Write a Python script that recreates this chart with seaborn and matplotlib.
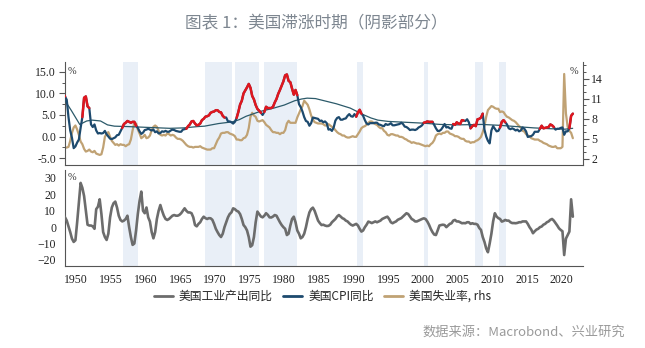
import numpy as np
import pandas as pd
import matplotlib
matplotlib.use("Agg")
import matplotlib.pyplot as plt
import seaborn as sns
from matplotlib.ticker import MultipleLocator, FormatStrFormatter, FixedLocator
from matplotlib.lines import Line2D

sns.set_style("white")
CJK = ["Noto Sans CJK SC", "DejaVu Sans"]
plt.rcParams["font.family"] = CJK
TICK_FONT = "Liberation Serif"

# ---- quarterly series, starting 1948 Q1 ----
start_year = 1948

# US CPI, % y/y
cpi_yoy = [
    9.8, 9.3, 8.5, 4.5,      # 1948
    1.4, -0.3, -2.7, -2.3,   # 1949
    -1.4, -0.7, 2.0, 4.5,    # 1950
    9.0, 9.3, 7.0, 6.6,      # 1951
    2.8, 2.2, 2.8, 1.4,      # 1952
    0.7, 0.8, 0.7, 0.8,      # 1953
    1.3, 0.5, 0.0, -0.5,     # 1954
    -0.6, -0.4, -0.2, 0.3,   # 1955
    0.4, 1.2, 2.0, 2.9,      # 1956
    3.2, 3.6, 3.4, 3.2,      # 1957
    3.4, 3.4, 2.5, 2.0,      # 1958
    1.2, 0.6, 0.9, 1.5,      # 1959
    1.6, 1.8, 1.6, 1.4,      # 1960
    1.6, 1.0, 1.2, 0.7,      # 1961
    0.8, 1.2, 1.1, 1.3,      # 1962
    1.1, 1.1, 1.4, 1.6,      # 1963
    1.5, 1.3, 1.2, 1.1,      # 1964
    1.1, 1.6, 1.7, 1.8,      # 1965
    2.4, 2.8, 3.5, 3.6,      # 1966
    3.0, 2.6, 2.7, 3.0,      # 1967
    3.8, 4.1, 4.6, 4.7,      # 1968
    4.9, 5.5, 5.7, 5.8,      # 1969
    6.1, 6.1, 5.7, 5.6,      # 1970
    4.8, 4.4, 4.4, 3.5,      # 1971
    3.5, 3.3, 3.0, 3.4,      # 1972
    4.3, 5.7, 7.4, 8.3,      # 1973
    10.0, 10.7, 11.4, 12.2,  # 1974
    11.3, 9.4, 8.6, 7.3,     # 1975
    6.4, 6.0, 5.5, 5.0,      # 1976
    5.7, 6.9, 6.6, 6.6,      # 1977
    6.6, 6.9, 7.9, 8.7,      # 1978
    9.9, 10.8, 11.8, 12.8,   # 1979
    14.2, 14.4, 12.9, 12.6,  # 1980
    11.1, 9.7, 10.8, 9.6,    # 1981
    7.5, 6.8, 5.8, 4.5,      # 1982
    3.6, 3.4, 2.5, 3.1,      # 1983
    4.4, 4.3, 4.2, 4.1,      # 1984
    3.6, 3.7, 3.3, 3.5,      # 1985
    3.1, 1.6, 1.7, 1.3,      # 1986
    2.1, 3.7, 4.3, 4.5,      # 1987
    3.9, 3.9, 4.1, 4.2,      # 1988
    4.8, 5.2, 4.7, 4.6,      # 1989
    5.2, 4.6, 5.6, 6.2,      # 1990
    5.3, 4.8, 3.8, 3.0,      # 1991
    2.8, 3.1, 3.1, 3.1,      # 1992
    3.2, 3.2, 2.8, 2.7,      # 1993
    2.5, 2.4, 2.9, 2.7,      # 1994
    2.8, 3.1, 2.6, 2.6,      # 1995
    2.7, 2.8, 2.9, 3.2,      # 1996
    2.9, 2.3, 2.2, 1.9,      # 1997
    1.5, 1.6, 1.6, 1.5,      # 1998
    1.7, 2.1, 2.3, 2.6,      # 1999
    3.2, 3.3, 3.5, 3.4,      # 2000
    3.4, 3.4, 2.7, 1.9,      # 2001
    1.3, 1.3, 1.6, 2.2,      # 2002
    2.9, 2.1, 2.2, 1.9,      # 2003
    1.8, 2.9, 2.7, 3.3,      # 2004
    3.0, 2.9, 3.8, 3.7,      # 2005
    3.6, 4.0, 3.3, 1.9,      # 2006
    2.4, 2.7, 2.4, 4.0,      # 2007
    4.1, 4.4, 5.3, 1.6,      # 2008
    0.0, -1.0, -1.6, 1.4,    # 2009
    2.4, 1.8, 1.2, 1.3,      # 2010
    2.1, 3.4, 3.8, 3.3,      # 2011
    2.8, 1.9, 1.7, 1.9,      # 2012
    1.7, 1.4, 1.6, 1.2,      # 2013
    1.4, 2.1, 1.8, 1.2,      # 2014
    -0.1, 0.0, 0.1, 0.4,     # 2015
    1.1, 1.1, 1.1, 1.8,      # 2016
    2.5, 1.9, 2.0, 2.1,      # 2017
    2.2, 2.8, 2.6, 2.2,      # 2018
    1.6, 1.8, 1.8, 2.0,      # 2019
    2.1, 0.4, 1.2, 1.2,      # 2020
    1.9, 4.8, 5.3,           # 2021
]

# US unemployment rate, % (right-hand scale)
unemployment = [
    3.7, 3.7, 3.7, 3.8,      # 1948
    4.7, 5.9, 6.7, 7.0,      # 1949
    6.4, 5.6, 4.6, 4.2,      # 1950
    3.5, 3.1, 3.2, 3.4,      # 1951
    3.1, 3.0, 3.2, 2.8,      # 1952
    2.7, 2.6, 2.7, 3.7,      # 1953
    5.3, 5.8, 6.0, 5.3,      # 1954
    4.7, 4.4, 4.1, 4.2,      # 1955
    4.0, 4.2, 4.1, 4.1,      # 1956
    3.9, 4.1, 4.2, 4.9,      # 1957
    6.3, 7.4, 7.3, 6.4,      # 1958
    5.8, 5.1, 5.3, 5.6,      # 1959
    5.1, 5.2, 5.5, 6.3,      # 1960
    6.8, 7.0, 6.8, 6.2,      # 1961
    5.6, 5.5, 5.6, 5.5,      # 1962
    5.8, 5.7, 5.5, 5.6,      # 1963
    5.5, 5.2, 5.0, 5.0,      # 1964
    4.9, 4.7, 4.4, 4.1,      # 1965
    3.9, 3.8, 3.8, 3.7,      # 1966
    3.8, 3.8, 3.8, 3.9,      # 1967
    3.7, 3.6, 3.5, 3.4,      # 1968
    3.4, 3.4, 3.6, 3.6,      # 1969
    4.2, 4.8, 5.2, 5.8,      # 1970
    5.9, 5.9, 6.0, 6.0,      # 1971
    5.8, 5.7, 5.6, 5.4,      # 1972
    4.9, 4.9, 4.8, 4.8,      # 1973
    5.1, 5.2, 5.6, 6.6,      # 1974
    8.3, 8.9, 8.5, 8.3,      # 1975
    7.7, 7.6, 7.7, 7.8,      # 1976
    7.5, 7.1, 6.9, 6.7,      # 1977
    6.3, 6.0, 6.0, 5.9,      # 1978
    5.9, 5.7, 5.9, 5.9,      # 1979
    6.3, 7.3, 7.7, 7.4,      # 1980
    7.4, 7.4, 7.4, 8.2,      # 1981
    8.8, 9.4, 9.9, 10.7,     # 1982
    10.4, 10.1, 9.4, 8.5,    # 1983
    7.9, 7.5, 7.4, 7.3,      # 1984
    7.3, 7.3, 7.2, 7.0,      # 1985
    7.0, 7.2, 7.0, 6.8,      # 1986
    6.6, 6.3, 6.0, 5.8,      # 1987
    5.7, 5.5, 5.5, 5.3,      # 1988
    5.2, 5.2, 5.3, 5.4,      # 1989
    5.3, 5.3, 5.7, 6.1,      # 1990
    6.6, 6.8, 6.9, 7.1,      # 1991
    7.4, 7.6, 7.6, 7.4,      # 1992
    7.2, 7.1, 6.8, 6.6,      # 1993
    6.6, 6.2, 6.0, 5.6,      # 1994
    5.5, 5.7, 5.7, 5.6,      # 1995
    5.5, 5.5, 5.3, 5.3,      # 1996
    5.2, 5.0, 4.9, 4.7,      # 1997
    4.6, 4.4, 4.5, 4.4,      # 1998
    4.3, 4.3, 4.2, 4.1,      # 1999
    4.0, 3.9, 4.0, 3.9,      # 2000
    4.2, 4.4, 4.8, 5.5,      # 2001
    5.7, 5.8, 5.7, 5.9,      # 2002
    5.9, 6.1, 6.1, 5.8,      # 2003
    5.7, 5.6, 5.4, 5.4,      # 2004
    5.3, 5.1, 5.0, 5.0,      # 2005
    4.7, 4.6, 4.6, 4.4,      # 2006
    4.5, 4.5, 4.7, 4.8,      # 2007
    5.0, 5.3, 6.0, 6.9,      # 2008
    8.3, 9.3, 9.6, 9.9,      # 2009
    9.8, 9.6, 9.5, 9.5,      # 2010
    9.0, 9.1, 9.0, 8.6,      # 2011
    8.3, 8.2, 8.0, 7.8,      # 2012
    7.7, 7.5, 7.2, 6.9,      # 2013
    6.7, 6.2, 6.1, 5.7,      # 2014
    5.5, 5.4, 5.1, 5.0,      # 2015
    4.9, 4.9, 4.9, 4.7,      # 2016
    4.6, 4.4, 4.3, 4.2,      # 2017
    4.0, 3.9, 3.8, 3.8,      # 2018
    3.9, 3.6, 3.6, 3.6,      # 2019
    3.8, 14.7, 8.8, 6.8,     # 2020
    6.2, 5.9, 5.1,           # 2021
]

# US industrial production, % y/y
ip_yoy = [
    7.4, 6.0, 4.0, 0.5,        # 1948
    -3.0, -7.0, -9.0, -8.0,    # 1949
    3.0, 15.0, 27.0, 24.0,     # 1950
    19.0, 10.0, 1.5, 1.0,      # 1951
    1.0, 0.5, -1.0, 11.0,      # 1952
    12.5, 17.0, 8.0, -3.0,     # 1953
    -6.0, -7.8, -4.0, 6.0,     # 1954
    12.0, 14.6, 15.6, 12.0,    # 1955
    7.0, 4.4, 3.5, 4.0,        # 1956
    5.0, 7.0, 0.0, -6.0,       # 1957
    -10.8, -10.0, -2.0, 8.0,   # 1958
    16.0, 21.7, 10.0, 8.5,     # 1959
    12.0, 6.0, 3.4, -3.0,      # 1960
    -6.8, -3.0, 5.0, 10.0,     # 1961
    13.5, 10.0, 7.0, 5.0,      # 1962
    4.4, 5.0, 6.0, 7.0,        # 1963
    7.4, 7.0, 7.0, 7.5,        # 1964
    8.5, 10.0, 11.5, 10.0,     # 1965
    9.0, 9.0, 8.5, 6.0,        # 1966
    1.3, 0.5, 2.0, 3.0,        # 1967
    5.0, 6.4, 5.5, 5.0,        # 1968
    5.5, 5.4, 4.5, 2.0,        # 1969
    -1.0, -3.0, -4.8, -6.0,    # 1970
    -4.0, 0.0, 3.0, 6.0,       # 1971
    8.0, 9.0, 11.5, 11.0,      # 1972
    10.0, 9.5, 8.0, 5.0,       # 1973
    1.3, 0.0, -2.0, -6.0,      # 1974
    -11.9, -11.0, -6.0, 3.0,   # 1975
    9.5, 8.0, 6.5, 6.0,        # 1976
    7.0, 8.5, 7.5, 6.0,        # 1977
    5.9, 6.5, 7.4, 7.0,        # 1978
    5.0, 3.0, 1.3, 0.0,        # 1979
    -1.0, -4.8, -4.0, 1.0,     # 1980
    5.0, 6.4, 3.0, -2.0,       # 1981
    -4.0, -6.8, -6.0, -4.0,    # 1982
    0.0, 5.0, 9.0, 11.0,       # 1983
    11.9, 10.0, 7.0, 4.0,      # 1984
    2.5, 1.3, 1.5, 1.0,        # 1985
    0.7, 0.8, 1.5, 3.0,        # 1986
    4.0, 5.0, 6.5, 7.4,        # 1987
    6.5, 5.5, 5.0, 4.0,        # 1988
    3.5, 2.4, 1.5, 1.0,        # 1989
    1.5, 2.0, 1.0, -1.0,       # 1990
    -2.7, -2.0, 0.0, 1.5,      # 1991
    3.4, 3.0, 2.5, 3.0,        # 1992
    3.5, 3.0, 3.5, 4.0,        # 1993
    5.0, 5.5, 6.0, 6.4,        # 1994
    5.0, 3.0, 2.4, 3.0,        # 1995
    3.5, 4.5, 5.0, 5.5,        # 1996
    6.5, 7.5, 8.5, 8.0,        # 1997
    6.5, 5.0, 4.4, 3.5,        # 1998
    3.5, 4.0, 4.5, 5.0,        # 1999
    5.4, 5.0, 3.5, 1.5,        # 2000
    -1.0, -3.0, -4.5, -4.8,    # 2001
    -2.0, 1.0, 1.3, 1.5,       # 2002
    1.3, 0.0, 1.0, 2.0,        # 2003
    2.4, 4.0, 4.4, 3.5,        # 2004
    3.5, 3.0, 2.4, 2.5,        # 2005
    2.4, 3.0, 3.0, 2.0,        # 2006
    2.4, 2.0, 2.0, 1.5,        # 2007
    -0.5, -1.7, -6.0, -9.0,    # 2008
    -13.0, -15.3, -10.0, -4.0, # 2009
    3.5, 8.5, 6.5, 5.5,        # 2010
    5.0, 3.4, 3.8, 4.4,        # 2011
    4.0, 4.0, 3.0, 2.5,        # 2012
    2.5, 2.4, 2.6, 3.0,        # 2013
    3.0, 3.5, 3.5, 3.5,        # 2014
    2.0, 0.0, -1.5, -3.7,      # 2015
    -2.5, -1.5, -1.0, 0.0,     # 2016
    0.4, 1.5, 2.0, 3.0,        # 2017
    3.5, 4.5, 5.0, 4.0,        # 2018
    2.5, 1.0, -0.7, -1.7,      # 2019
    -2.5, -17.0, -7.0, -4.8,   # 2020
    -2.7, 17.0, 6.4,           # 2021
]

# long-run CPI trend line (thin), % y/y
trend_years = [1948.1, 1949.3, 1950.5, 1951.5, 1952.3, 1953.5, 1954.5, 1955.5,
               1957.5, 1960.5, 1963.5, 1965.5, 1967.5, 1968.5, 1970.5, 1972.5,
               1973.5, 1974.5, 1976.5, 1978.5, 1980.0, 1981.5, 1982.5, 1983.3,
               1984.5, 1986.0, 1987.5, 1989.5, 1990.5, 1991.5, 1992.5, 1993.5,
               1995.0, 1997.5, 2000.0, 2002.5, 2005.0, 2008.5, 2011.0, 2013.5,
               2016.0, 2018.5, 2020.5, 2021.6]
trend_cpi = [9.0, 6.0, 2.8, 3.6, 3.8, 3.6, 2.7, 2.4,
             2.3, 2.1, 1.9, 2.0, 2.3, 2.4, 3.0, 3.4,
             3.9, 4.7, 5.8, 6.6, 7.3, 8.3, 8.7, 8.9,
             8.8, 8.2, 7.6, 6.6, 5.8, 5.0, 4.3, 3.8,
             3.5, 3.3, 3.1, 2.8, 2.7, 2.8, 2.6, 2.3,
             2.0, 1.8, 1.7, 1.9]

# stagflation periods (shaded)
stagflation_periods = [(1956.7, 1958.9), (1968.6, 1972.5), (1972.9, 1976.4),
                       (1977.1, 1981.9), (1990.5, 1991.4), (2000.1, 2000.8),
                       (2007.5, 2008.7), (2011.0, 2012.0)]

# stretches where CPI is drawn in red
cpi_red_periods = [(1948.0, 1948.4), (1950.85, 1952.0), (1956.6, 1958.7),
                   (1965.8, 1971.6), (1972.9, 1976.7), (1977.1, 1982.0),
                   (1990.3, 1991.2), (1999.9, 2001.4), (2004.3, 2006.0),
                   (2006.8, 2008.7), (2011.0, 2011.95), (2016.8, 2018.9),
                   (2021.0, 2021.7)]

x_ticks = list(range(1950, 2021, 5))
legend_labels = ["美国工业产出同比", "美国CPI同比", "美国失业率, rhs"]
title_text = "图表 1：美国滞涨时期（阴影部分）"
source_text = "数据来源：Macrobond、兴业研究"

n = len(cpi_yoy)
assert n == len(unemployment) == len(ip_yoy)
quarter_pos = start_year + 0.125 + 0.25 * np.arange(n)
df = pd.DataFrame({"year": quarter_pos, "cpi": cpi_yoy,
                   "unemp": unemployment, "ip": ip_yoy})
trend_df = pd.DataFrame({"year": trend_years, "trend": trend_cpi})

C_RED = "#e0161e"
C_BLUE = "#1d4a6e"
C_TAN = "#c0a274"
C_TREND = "#2c5a6a"
C_GRAY = "#6c6c6c"
C_SHADE = "#e9eff7"
C_SPINE = "#555555"

fig = plt.figure(figsize=(6.45, 3.48), dpi=100)
ax1 = fig.add_axes([0.1, 0.526, 0.804, 0.296])
ax2 = fig.add_axes([0.1, 0.2356, 0.804, 0.276])
ax1r = ax1.twinx()

# left-hand axes draw on top of the right-hand one; the shading sits on the
# bottom layer so every line stays visible
ax1.set_zorder(ax1r.get_zorder() + 1)
ax1.patch.set_visible(False)

xlim = (1948.3, 2023.1)
for a in (ax1r, ax2):
    for s, e in stagflation_periods:
        a.axvspan(s, e, color=C_SHADE, lw=0, zorder=0)

# top panel
sns.lineplot(data=df, x="year", y="unemp", ax=ax1r, color=C_TAN, lw=1.6,
             zorder=2)
sns.lineplot(data=trend_df, x="year", y="trend", ax=ax1, color=C_TREND,
             lw=0.9, zorder=3)
sns.lineplot(data=df, x="year", y="cpi", ax=ax1, color=C_BLUE, lw=1.6,
             zorder=4)
for s, e in cpi_red_periods:
    seg = df[(df["year"] >= s) & (df["year"] <= e)]
    sns.lineplot(data=seg, x="year", y="cpi", ax=ax1, color=C_RED, lw=1.8,
                 zorder=5)

# bottom panel
sns.lineplot(data=df, x="year", y="ip", ax=ax2, color=C_GRAY, lw=1.9, zorder=3)

ax1.set_xlim(*xlim)
ax1r.set_xlim(*xlim)
ax2.set_xlim(*xlim)

for a in (ax1, ax1r, ax2):
    a.set_xlabel("")
    a.set_ylabel("")
    for sp in a.spines.values():
        sp.set_color(C_SPINE)
        sp.set_linewidth(0.8)

ax1.spines["top"].set_visible(False)
ax1.spines["right"].set_visible(False)
ax1r.spines["top"].set_visible(False)
ax1r.spines["left"].set_visible(False)
ax1r.spines["bottom"].set_visible(False)
ax2.spines["top"].set_visible(False)
ax2.spines["right"].set_visible(False)

ax1.set_xticks([])
ax1.yaxis.set_major_locator(MultipleLocator(5))
ax1.yaxis.set_minor_locator(MultipleLocator(2.5))
ax1.yaxis.set_major_formatter(FormatStrFormatter("%.1f"))
ax1r.yaxis.set_major_locator(FixedLocator([2, 5, 8, 11, 14]))
ax1r.yaxis.set_minor_locator(MultipleLocator(1))
ax2.yaxis.set_major_locator(MultipleLocator(10))
ax2.yaxis.set_minor_locator(MultipleLocator(5))
ax2.set_xticks(x_ticks)
ax2.set_xticklabels([str(y) for y in x_ticks])

for a in (ax1, ax1r, ax2):
    a.tick_params(axis="both", which="major", direction="out", length=4,
                  width=0.8, color=C_SPINE, labelsize=8.5, pad=2,
                  labelcolor="#222222")
    a.tick_params(axis="both", which="minor", direction="out", length=2.5,
                  width=0.7, color=C_SPINE)
    for lab in a.get_xticklabels() + a.get_yticklabels():
        lab.set_fontfamily(TICK_FONT)
ax1.set_ylim(-6.6, 17.3)
ax1r.set_ylim(1.1, 16.5)
ax2.set_ylim(-23.7, 34.9)

pct = dict(fontsize=7.5, color="#333333", family=TICK_FONT)
ax1.text(0.015, 0.91, "%", transform=ax1.transAxes, ha="center", va="center", **pct)
ax1.text(0.983, 0.91, "%", transform=ax1.transAxes, ha="center", va="center", **pct)
ax2.text(0.015, 0.92, "%", transform=ax2.transAxes, ha="center", va="center", **pct)

handles = [Line2D([], [], color=C_GRAY, lw=2),
           Line2D([], [], color=C_BLUE, lw=2),
           Line2D([], [], color=C_TAN, lw=2)]
fig.legend(handles, legend_labels, loc="center", bbox_to_anchor=(0.5, 0.148),
           ncol=3, frameon=False, handlelength=1.6,
           handletextpad=0.5, columnspacing=0.9, prop={"family": CJK, "size": 8.5})

fig.text(0.49, 1 - 24 / 348, title_text, ha="center", va="center",
         fontsize=12, color="#7d8690", family=CJK)
fig.text(0.969, 1 - 332 / 348, source_text, ha="right", va="center",
         fontsize=9.5, color="#9a9a9a", family=CJK)

fig.savefig("out.png", dpi=100)
